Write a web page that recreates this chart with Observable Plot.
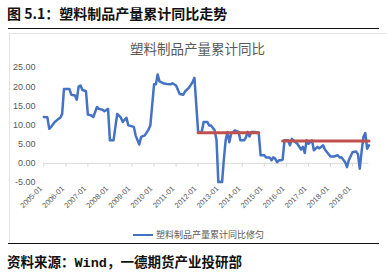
<!DOCTYPE html>
<html>
<head>
<meta charset="utf-8">
<script src="https://cdn.jsdelivr.net/npm/d3@7"></script>
<script src="https://cdn.jsdelivr.net/npm/@observablehq/plot@0.6"></script>
<style>
  html, body { margin: 0; padding: 0; background: #fff; }
  #wrap { position: relative; width: 387px; height: 274px; overflow: hidden; font-family: "Noto Sans CJK SC", sans-serif; }
  .abs { position: absolute; white-space: nowrap; }
  #pageTitle { left: 7px; top: 4px; font-size: 14px; font-weight: bold; color: #111; line-height: 18px; }
  #rule1 { left: 8px; top: 28px; width: 371px; height: 0; border-top: 1.5px solid #111; }
  #box { left: 9px; top: 33px; width: 378px; height: 208px; border-top: 1px solid #e3e3e3; border-left: 1px solid #e3e3e3; }
  #chartTitle { left: 0; width: 395px; text-align: center; top: 39px; font-size: 13.5px; color: #595959; line-height: 18px; }
  #legend { left: 133px; top: 229px; font-size: 9px; color: #595959; line-height: 12px; display: flex; align-items: center; }
  #legend .sw { width: 20px; height: 0; border-top: 2.5px solid #4472c4; margin-right: 3px; }
  #rule2 { left: 8px; top: 243px; width: 371px; height: 0; border-top: 1.5px solid #111; }
  #source { left: 7px; top: 252px; font-size: 13.5px; font-weight: bold; color: #111; line-height: 18px; }
  #source .mono { font-family: "Liberation Mono", monospace; }
  #plot { position: absolute; left: 0; top: 0; }
</style>
</head>
<body>
<div id="wrap">
  <div class="abs" id="box"></div>
  <div class="abs" id="pageTitle">图 5.1：塑料制品产量累计同比走势</div>
  <div class="abs" id="rule1"></div>
  <div class="abs" id="chartTitle">塑料制品产量累计同比</div>
  <div id="plot"></div>
  <div class="abs" id="legend"><span class="sw"></span><span>塑料制品产量累计同比修匀</span></div>
  <div class="abs" id="rule2"></div>
  <div class="abs" id="source">资料来源：<span class="mono">Wind</span>，一德期货产业投研部</div>
</div>
<script>
const months = [
"2005-01","2005-03","2005-04","2005-05","2005-07","2005-09","2005-10","2005-11","2005-12",
"2006-03","2006-04","2006-06","2006-07","2006-08","2006-09","2006-10","2006-12",
"2007-01","2007-03","2007-04","2007-06","2007-07","2007-09","2007-10","2007-12",
"2008-01","2008-03","2008-04","2008-05","2008-07","2008-08","2008-10","2008-11",
"2009-02","2009-03","2009-05","2009-06","2009-08","2009-10","2009-11",
"2010-01","2010-02","2010-03","2010-04","2010-06","2010-08","2010-10","2010-11",
"2011-01","2011-03","2011-05","2011-06","2011-08","2011-10","2011-11",
"2012-01","2012-03","2012-04","2012-06","2012-07","2012-08","2012-10","2012-11","2012-12",
"2013-02","2013-03","2013-04","2013-05","2013-06","2013-07","2013-09","2013-11","2013-12",
"2014-02","2014-03","2014-04","2014-05","2014-06","2014-08","2014-10","2014-11",
"2015-01","2015-02","2015-04","2015-05","2015-06","2015-07","2015-08","2015-09","2015-10","2015-11","2015-12",
"2016-02","2016-03","2016-04","2016-06","2016-07","2016-09","2016-10","2016-11","2016-12",
"2017-01","2017-03","2017-04","2017-06","2017-07","2017-09","2017-10",
"2018-01","2018-03","2018-05","2018-06","2018-07","2018-09","2018-10","2018-11",
"2019-01","2019-03","2019-04","2019-05","2019-06","2019-07","2019-08","2019-09","2019-10"
];
const values = [
12.1,12.0,9.0,9.5,10.8,11.6,11.9,12.9,19.4,
19.4,17.9,17.7,16.6,20.0,20.3,19.2,18.8,
12.7,12.5,12.1,14.7,14.2,14.0,13.6,14.2,
6.0,6.0,9.5,12.9,11.9,10.8,11.9,9.9,
9.5,7.3,4.9,6.9,7.3,8.8,9.9,
20.6,20.6,23.2,21.4,20.9,20.7,20.6,20.9,
20.3,18.1,17.9,18.8,19.7,21.2,22.3,
8.2,8.2,10.8,10.8,9.9,9.9,8.6,6.0,-4.9,
-4.9,0.8,6.0,8.2,5.5,7.7,8.6,8.2,6.0,
6.0,6.7,8.2,7.0,8.2,8.2,7.9,2.1,
2.1,1.5,1.5,0.8,1.6,1.2,0.3,0.8,0.8,1.0,6.0,
6.0,4.7,6.4,5.5,5.1,3.6,4.3,2.7,6.0,
5.1,6.0,3.4,4.3,3.9,4.7,3.6,
1.8,1.8,2.1,1.5,1.6,0.3,-1.0,0.8,
2.9,3.1,2.4,-1.4,3.1,6.9,7.9,3.8,4.7
];
const avgStart = ["2012-01","2015-11"];
const avgEnd = ["2014-10","2019-10"];
const avgValue = [8.0, 5.8];
const yTicks = [-5,0,5,10,15,20,25];
const xTicks = ["2005-01","2006-01","2007-01","2008-01","2009-01","2010-01","2011-01","2012-01","2013-01","2014-01","2015-01","2016-01","2017-01","2018-01","2019-01"];
const axisEnd = "2019-10";

const parse = d3.utcParse("%Y-%m");
const series = months.map((m, i) => ({date: parse(m), value: values[i]}));
const avgRows = [];
avgStart.forEach((s, i) => {
  avgRows.push({date: parse(s), value: avgValue[i], k: i});
  avgRows.push({date: parse(avgEnd[i]), value: avgValue[i], k: i});
});

const chart = Plot.plot({
  width: 387,
  height: 274,
  margin: 0,
  x: {type: "utc", domain: [parse("2005-01"), parse("2019-01")], range: [43.3, 352], axis: null},
  y: {domain: [-5, 25], range: [182, 67], axis: null},
  style: {background: "transparent", fontFamily: "Arial, 'Liberation Sans', sans-serif", overflow: "visible"},
  marks: [
    Plot.ruleY([0], {x1: parse("2005-01"), x2: parse(axisEnd), stroke: "#d9d9d9", strokeWidth: 1}),
    Plot.ruleX(xTicks, {x: d => parse(d), y1: 0, y2: -1, stroke: "#d9d9d9"}),
    Plot.text(yTicks, {y: d => d, text: d => d.toFixed(2), frameAnchor: "left", dx: 35, textAnchor: "end", fontSize: 9, fill: "#595959"}),
    Plot.text(xTicks, {x: d => parse(d), y: -7.0, text: d => d, rotate: -45, textAnchor: "end", dx: -2.8, dy: -2.8, fontSize: 7.5, fill: "#595959"}),
    Plot.line(series, {x: "date", y: "value", stroke: "#4472c4", strokeWidth: 2.5, strokeLinejoin: "round"}),
    Plot.line(avgRows, {x: "date", y: "value", z: "k", stroke: "#c0504d", strokeWidth: 3})
  ]
});
document.getElementById("plot").appendChild(chart);
</script>
</body>
</html>
